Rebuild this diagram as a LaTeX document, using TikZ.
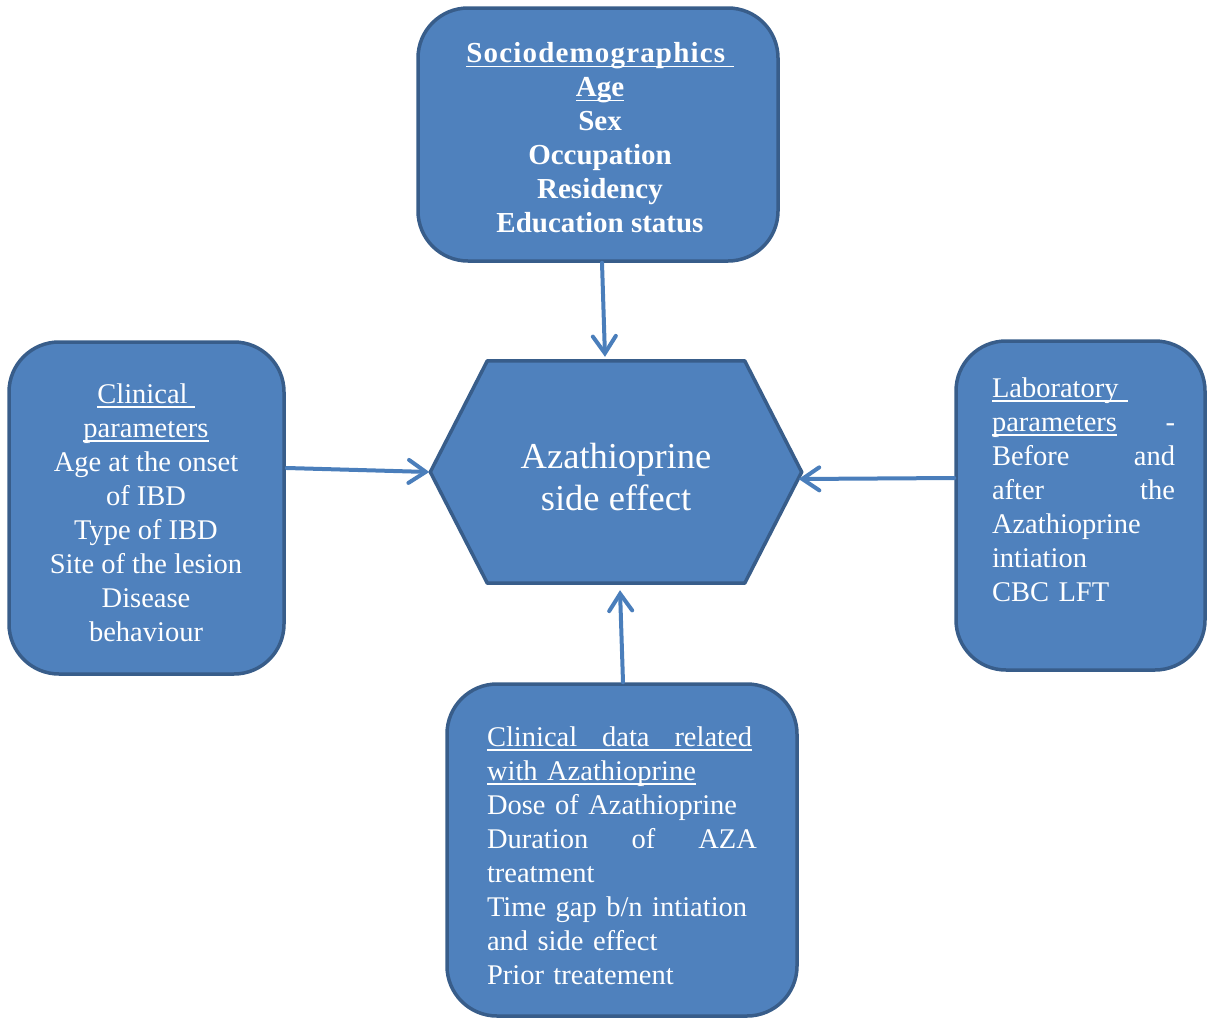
\documentclass[tikz,border=0pt]{standalone}
\usepackage{fontspec}
\setmainfont{Liberation Serif}
\usetikzlibrary{arrows.meta,backgrounds,calc}
\definecolor{boxfill}{RGB}{79,129,189}
\definecolor{boxline}{RGB}{56,93,138}
\definecolor{arrowc}{RGB}{74,126,187}
\newsavebox\ulbox
\newcommand\myul[1]{\leavevmode\sbox\ulbox{#1}\rlap{\rule[-4.5pt]{\wd\ulbox}{1.8pt}}\usebox\ulbox}
\newcommand\spreadln[2]{\leavevmode\hbox to #1{#2}}
\begin{document}
\begin{tikzpicture}[x=1pt,y=-1pt,
 rbox/.style={draw=boxline, fill=boxfill, line width=3.5pt, rounded corners=50pt, inner sep=0pt},
 txt/.style={text=white, inner sep=0pt},
 boxfont/.style={font=\fontsize{28.5}{34}\selectfont},
 conn/.style={draw=arrowc, line width=4pt, line cap=round, -{Straight Barb[length=17pt,width=23pt,line cap=round]}}
]
\useasboundingbox (0,0) rectangle (1207,1017);

% boxes
\node[rbox, minimum width=360pt, minimum height=253pt] (soc) at (598,134.5) {};
\node[rbox, minimum width=275pt, minimum height=332pt] (clin) at (146.5,508) {};
\node[rbox, minimum width=249pt, minimum height=329pt] (lab) at (1080.5,505.5) {};
\node[rbox, minimum width=350pt, minimum height=332pt] (bot) at (622,850) {};

% hexagon (anchor holder + text)
\node[txt, minimum width=371pt, minimum height=222pt, align=center,
      font=\fontsize{36.5}{42}\selectfont] (hex) at (616,472) {\\[-7pt]Azathioprine\\side effect};
\begin{scope}[on background layer]
\draw[draw=boxline, fill=boxfill, line width=3.5pt, line join=round]
  (hex.west) -- ($(hex.north west)+(57,0)$) -- ($(hex.north east)+(-57,0)$)
  -- (hex.east) -- ($(hex.south east)+(-57,0)$) -- ($(hex.south west)+(57,0)$) -- cycle;
\end{scope}

% texts
\node[txt, font=\fontsize{29}{34}\selectfont\bfseries, align=center] (soct) at (600,138)
 {\myul{\addfontfeature{LetterSpace=4}Sociodemographics\ }\\\myul{Age}\\Sex\\Occupation\\Residency\\Education status};

\node[txt, boxfont, align=center] (clint) at (146,513)
 {\myul{Clinical\ }\\\myul{parameters}\\Age at the onset\\of IBD\\Type of IBD\\Site of the lesion\\Disease\\behaviour};

\node[txt, boxfont, align=left, text width=183pt] (labt) at (1083.5,490)
 {\myul{Laboratory\ }\\\spreadln{183pt}{\myul{parameters}\hfill-}\\\spreadln{183pt}{Before\hfill and}\\\spreadln{183pt}{after\hfill the}\\Azathioprine\\intiation\\CBC LFT};

\node[txt, boxfont, align=left, text width=270pt] (bott) at (622,856)
 {\myul{\hbox to 265pt{Clinical\hfill data\hfill related}}\\\myul{with Azathioprine}\\Dose of Azathioprine\\\spreadln{270pt}{Duration\hfill of\hfill AZA}\\treatment\\Time gap b/n intiation\\and side effect\\Prior treatement};

% connectors
\draw[conn] ($(soc.south)+(4,0)$) -- ($(hex.north)+(-11,-4)$);
\draw[conn] ($(clin.east)+(1,-40)$) -- ($(hex.west)+(-1,0)$);
\draw[conn] ($(lab.west)+(0,-27.5)$) -- ($(hex.east)+(-3,7)$);
\draw[conn] ($(bot.north)+(1,0)$) -- ($(hex.south)+(4,7)$);
\end{tikzpicture}
\end{document}
